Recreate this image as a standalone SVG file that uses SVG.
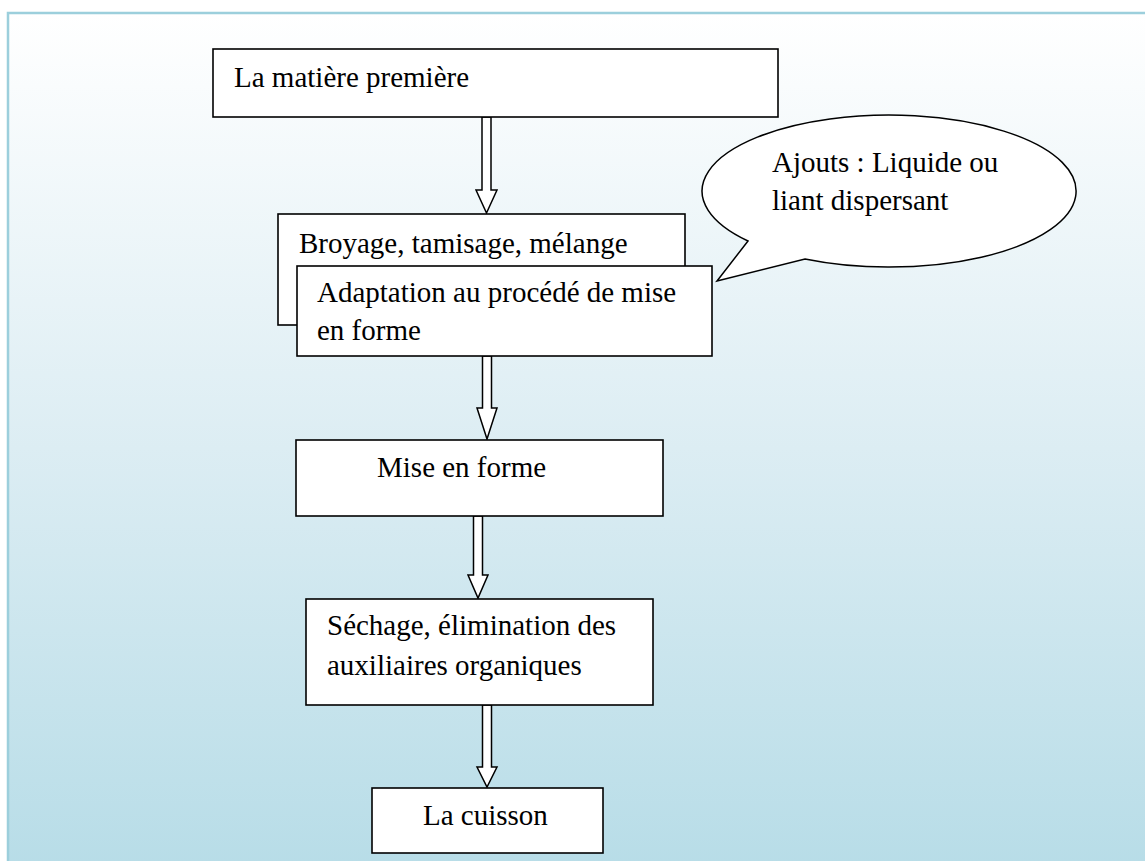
<svg xmlns="http://www.w3.org/2000/svg" width="1145" height="861" viewBox="0 0 1145 861">
<defs>
<linearGradient id="bg" x1="0" y1="0" x2="0" y2="1">
<stop offset="0" stop-color="#ffffff"/>
<stop offset="0.5" stop-color="#dcedf3"/>
<stop offset="1" stop-color="#b6dce7"/>
</linearGradient>
</defs>
<style>
.box{fill:#ffffff;stroke:#000000;stroke-width:1.6}
.arr{fill:#ffffff;stroke:#000000;stroke-width:1.5;stroke-linejoin:miter}
.t{font-family:"Liberation Serif","Times New Roman",serif;font-size:29px;fill:#000000}
</style>
<rect x="0" y="0" width="1145" height="861" fill="#ffffff"/>
<rect x="8" y="13" width="1160" height="870" fill="url(#bg)" stroke="#9ccfdc" stroke-width="2.5"/>
<g id="connectors">
<polygon class="arr" points="482,117 491,117 491,190 497,190 486.5,213 476,190 482,190"/>
<polygon class="arr" points="482.5,356 491.5,356 491.5,408 497,408 487,439 477,408 482.5,408"/>
<polygon class="arr" points="473.5,516 482.5,516 482.5,575 488,575 478,598 468,575 473.5,575"/>
<polygon class="arr" points="482.5,705 491.5,705 491.5,767 497,767 487,787 477,767 482.5,767"/>
</g>
<g id="n1">
<rect class="box" x="213" y="49" width="565" height="68"/>
<text class="t" x="234" y="87">La matière première</text>
</g>
<g id="n2">
<rect class="box" x="278" y="214" width="407" height="111"/>
<text class="t" x="299" y="253">Broyage, tamisage, mélange</text>
</g>
<g id="n3">
<rect class="box" x="297" y="266" width="415" height="90"/>
<text class="t" x="317" y="302">Adaptation au procédé de mise</text>
<text class="t" x="317" y="340">en forme</text>
</g>
<g id="n4">
<path d="M748,241 L717,281 L805,259 A187,76 0 1 0 748,241 Z" fill="#ffffff" stroke="#000000" stroke-width="1.5"/>
<text class="t" x="772" y="172">Ajouts : Liquide ou</text>
<text class="t" x="772" y="210">liant dispersant</text>
</g>
<g id="n5">
<rect class="box" x="296" y="440" width="367" height="76"/>
<text class="t" x="377" y="477">Mise en forme</text>
</g>
<g id="n6">
<rect class="box" x="306" y="599" width="347" height="106"/>
<text class="t" x="327" y="635">Séchage, élimination des</text>
<text class="t" x="327" y="675">auxiliaires organiques</text>
</g>
<g id="n7">
<rect class="box" x="372" y="788" width="231" height="65"/>
<text class="t" x="423" y="825">La cuisson</text>
</g>
</svg>
